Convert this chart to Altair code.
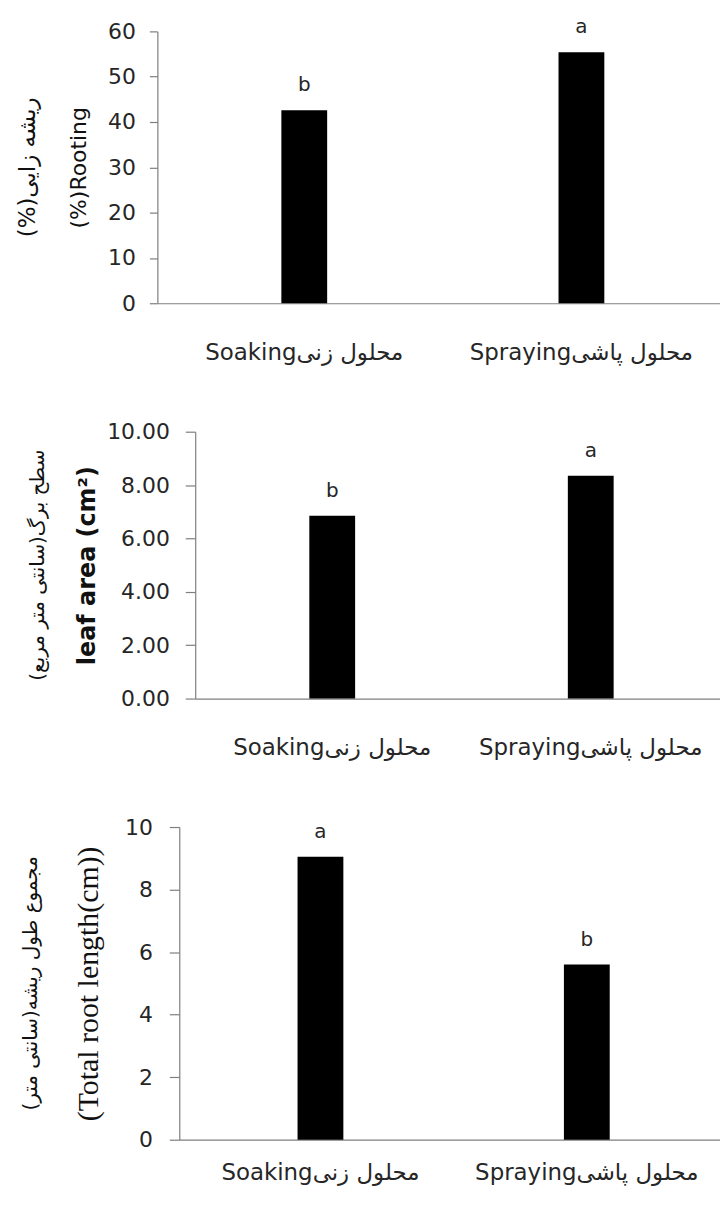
import altair as alt
import pandas as pd

categories = ["Soakingمحلول زنی", "Sprayingمحلول پاشی"]

rooting = [42.6, 55.4]
rooting_letters = ["b", "a"]

leaf_area = [6.85, 8.35]
leaf_letters = ["b", "a"]

root_length = [9.05, 5.6]
root_letters = ["a", "b"]

rooting_ticks = [0, 10, 20, 30, 40, 50, 60]
leaf_ticks = [0, 2, 4, 6, 8, 10]
root_ticks = [0, 2, 4, 6, 8, 10]

SANS = "DejaVu Sans"
AX = "#7f7f7f"
TXT = "#262626"
W = 565


def panel(values, letters, ymax, ticks, fmt, en_title, en_font, en_size,
          en_weight, fa_title, fa_size, shift, height, tick_size,
          label_pad, title_pad, fa_offset, x_label_pad):
    df = pd.DataFrame({"cat": categories, "val": values, "lab": letters})
    x = alt.X(
        "cat:N", sort=categories,
        scale=alt.Scale(range=[shift, W], paddingInner=0,
                        paddingOuter=0.015, align=1),
        axis=alt.Axis(title=None, labelAngle=0, ticks=False,
                      labelPadding=x_label_pad, labelFont=SANS,
                      labelFontSize=23, labelColor=TXT, domainColor=AX,
                      domainWidth=1.2, labelLimit=400),
    )
    y = alt.Y(
        "val:Q",
        scale=alt.Scale(domain=[0, ymax], nice=False),
        axis=alt.Axis(values=ticks, format=fmt, grid=False, offset=-shift,
                      tickSize=tick_size, tickColor=AX, tickWidth=1.2,
                      domainColor=AX, domainWidth=1.2,
                      labelPadding=label_pad, labelFont=SANS,
                      labelFontSize=22, labelColor=TXT,
                      title=en_title, titleFont=en_font,
                      titleFontSize=en_size, titleFontWeight=en_weight,
                      titleColor="#111", titlePadding=title_pad),
    )
    bars = alt.Chart(df).mark_bar(color="black", width=46).encode(x=x, y=y)
    text = alt.Chart(df).mark_text(
        baseline="alphabetic", dy=-19, font=SANS, fontSize=20, color=TXT
    ).encode(x=x, y=y, text="lab:N")
    return alt.layer(bars, text).properties(
        width=W, height=height,
        title=alt.TitleParams(fa_title, orient="left", anchor="middle",
                              frame="group", font=SANS, fontSize=fa_size,
                              fontWeight="normal", color="#111",
                              offset=fa_offset),
    )


p1 = panel(rooting, rooting_letters, 60, rooting_ticks, "d",
           "(%)Rooting", SANS, 22, "normal",
           "(%)ریشه زایی", 23, 0, 273, 8, 14, 17, 28, 38)
p2 = panel(leaf_area, leaf_letters, 10, leaf_ticks, ".2f",
           "leaf area  (cm²)", SANS, 24, "bold",
           "\u200fسطح برگ(سانتی متر مربع)\u200f", 20, 38, 268, 10, 16, 7, 28, 38)
p3 = panel(root_length, root_letters, 10, root_ticks, "d",
           "(Total root length(cm))", "Liberation Serif", 30, "normal",
           "\u200fمجموع طول ریشه(سانتی متر)\u200f", 20, 22, 314, 10, 17, 21, 33, 22)

chart = alt.vconcat(p1, p2, p3, spacing=129, bounds="flush").properties(
    padding={"left": 9, "top": 6, "right": 0, "bottom": 0},
    background="white",
).configure_view(stroke=None)

chart.save("out.html", embed_options={"renderer": "svg", "actions": False})
